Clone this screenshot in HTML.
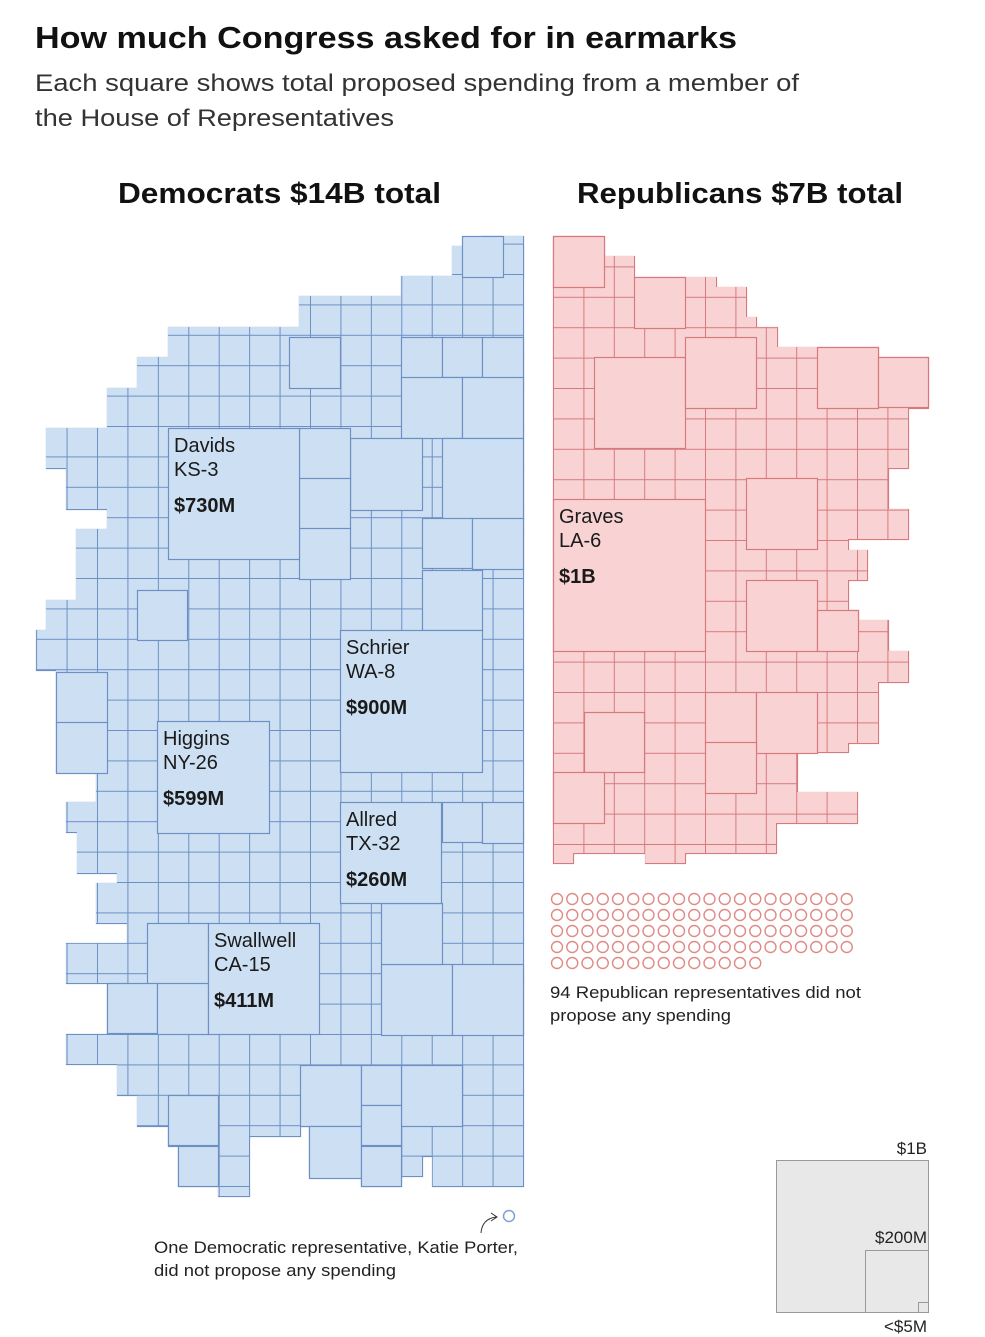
<!DOCTYPE html>
<html><head><meta charset="utf-8">
<style>
html,body{margin:0;padding:0;background:#fff;}
svg{display:block;font-family:"Liberation Sans",sans-serif;}
</style></head>
<body>
<svg id="chart" width="985" height="1337" viewBox="0 0 985 1337" xmlns="http://www.w3.org/2000/svg">
<defs>
<pattern id="pd" x="523" y="1186" width="30.43" height="30.4" patternUnits="userSpaceOnUse">
<rect width="30.43" height="30.4" fill="#cde0f3"/><path d="M0 0H30.43M0 0V30.4" stroke="#6d8fc4" stroke-width="2" fill="none"/></pattern>
<pattern id="pr" x="553" y="236" width="30.4" height="30.4" patternUnits="userSpaceOnUse">
<rect width="30.4" height="30.4" fill="#f9d3d4"/><path d="M0 0H30.4M0 0V30.4" stroke="#d77a7e" stroke-width="2" fill="none"/></pattern>
<clipPath id="cd"></clipPath><clipPath id="cr"></clipPath>
</defs>
<text x="35" y="48" font-size="31" font-weight="bold" fill="#111" textLength="702" lengthAdjust="spacingAndGlyphs">How much Congress asked for in earmarks</text>
<text x="35" y="91" font-size="24" fill="#333" textLength="764" lengthAdjust="spacingAndGlyphs">Each square shows total proposed spending from a member of</text>
<text x="35" y="126" font-size="24" fill="#333" textLength="359" lengthAdjust="spacingAndGlyphs">the House of Representatives</text>
<text x="118" y="203" font-size="29" font-weight="bold" fill="#111" textLength="323" lengthAdjust="spacingAndGlyphs">Democrats $14B total</text>
<text x="577" y="203" font-size="29" font-weight="bold" fill="#111" textLength="326" lengthAdjust="spacingAndGlyphs">Republicans $7B total</text>
<g id="dem"></g><g id="rep"></g><g id="labels"></g><g id="zeros"></g>
<circle cx="509" cy="1216" r="5.5" fill="none" stroke="#7ea1d3" stroke-width="1.5"/>
<path d="M481 1233 Q482 1219 496 1217 M491 1213 L497 1217 L491 1221" fill="none" stroke="#333" stroke-width="1"/>
<text x="154" y="1253" font-size="17" fill="#222" textLength="364" lengthAdjust="spacingAndGlyphs">One Democratic representative, Katie Porter,</text>
<text x="154" y="1276" font-size="17" fill="#222" textLength="242" lengthAdjust="spacingAndGlyphs">did not propose any spending</text>
<text x="550" y="998" font-size="17" fill="#222" textLength="311" lengthAdjust="spacingAndGlyphs">94 Republican representatives did not</text>
<text x="550" y="1021" font-size="17" fill="#222" textLength="181" lengthAdjust="spacingAndGlyphs">propose any spending</text>
<g>
<rect x="776.5" y="1160.5" width="152" height="152" fill="#e8e8e8" stroke="#999"/>
<rect x="865.5" y="1250.5" width="63" height="62" fill="#e8e8e8" stroke="#999"/>
<rect x="918.5" y="1302.5" width="10" height="10" fill="#e8e8e8" stroke="#999"/>
<text x="927" y="1154" font-size="17" fill="#222" text-anchor="end">$1B</text>
<text x="927" y="1243" font-size="17" fill="#222" text-anchor="end">$200M</text>
<text x="927" y="1332" font-size="17" fill="#222" text-anchor="end">&lt;$5M</text>
</g>
</svg>
<script>
const NS="http://www.w3.org/2000/svg";
const demOutline=[[482,236,523,276],[452,246,523,276],[401,276,523,296],[299,296,523,327],[168,327,523,357],[137,357,523,388],[107,388,523,428],[46,428,523,468],[66,468,523,509],[107,509,523,529],[76,529,523,600],[46,600,523,630],[36,630,523,670],[56,670,523,772],[96,772,523,802],[66,802,523,832],[77,832,523,873],[117,873,523,883],[96,883,523,923],[127,923,523,943],[66,943,523,983],[107,983,523,1034],[66,1034,523,1064],[117,1064,523,1095],[137,1095,300,1126],[168,1126,218,1146],[218,1126,300,1136],[178,1146,218,1186],[218,1136,249,1196],[300,1095,523,1126],[309,1126,361,1176],[361,1126,401,1186],[401,1126,422,1176],[422,1126,432,1156],[432,1126,523,1186]];
const demBlocks=[[462,236,41],[401,337,41],[442,337,40],[482,337,41],[401,377,61],[462,377,61],[289,337,51],[350,438,72],[442,438,81],[422,518,50],[472,518,51],[299,428,51],[299,478,51],[299,528,51],[422,570,60],[137,590,50],[56,672,51],[56,722,51],[442,802,40],[482,802,41],[381,964,71],[452,964,71],[381,903,61],[300,1065,61],[401,1065,61],[309,1126,52],[147,923,61],[107,983,50],[157,983,51],[168,1095,50],[178,1146,40],[361,1065,40],[361,1105,40],[361,1146,40]];
const repOutline=[[553,236,604,256],[553,256,634,277],[553,277,716,287],[553,287,746,317],[553,317,756,327],[553,327,777,347],[553,347,878,357],[553,357,928,408],[553,408,908,468],[553,468,888,509],[553,509,908,539],[553,539,848,550],[553,550,867,580],[553,580,848,610],[553,610,858,620],[553,620,888,651],[553,651,908,682],[553,682,878,743],[553,743,848,752],[553,752,797,792],[553,792,857,823],[553,823,776,853],[553,853,573,863],[645,853,685,863]];
const repBlocks=[[553,236,51],[634,277,51],[594,357,91],[685,337,71],[817,347,61],[878,357,50],[746,478,71],[746,580,71],[584,712,60],[705,692,51],[756,692,61],[705,742,51],[553,772,51],[817,610,41]];
const demNames=["Davids","Schrier","Higgins","Allred","Swallwell"];
const demDistricts=["KS-3","WA-8","NY-26","TX-32","CA-15"];
const demValues=["$730M","$900M","$599M","$260M","$411M"];
const demBig=[[168,428,131],[340,630,142],[157,721,112],[340,802,101],[208,923,111]];
const repNames=["Graves"],repDistricts=["LA-6"],repValues=["$1B"];
const repBig=[[553,499,152]];
const repZeroCount=94;

function build(outline,blocks,big,gId,clipId,pat,fill,stroke,party,names,dists,vals){
  const g=document.getElementById(gId),clip=document.getElementById(clipId);
  outline.forEach(o=>{
    const r=document.createElementNS(NS,'rect');
    r.setAttribute('x',o[0]);r.setAttribute('y',o[1]);r.setAttribute('width',o[2]-o[0]);r.setAttribute('height',o[3]-o[1]);
    clip.appendChild(r);
    const s=document.createElementNS(NS,'rect');
    
    
    s.setAttribute('x',o[0]+0.5);s.setAttribute('y',o[1]+0.5);s.setAttribute('width',o[2]-o[0]);s.setAttribute('height',o[3]-o[1]);
    s.setAttribute('fill',fill);s.setAttribute('stroke',stroke);s.setAttribute('stroke-width','1.2');
    g.appendChild(s);
  });
  const p=document.createElementNS(NS,'rect');
  
  
  p.setAttribute('x',0);p.setAttribute('y',0);p.setAttribute('width',985);p.setAttribute('height',1337);
  p.setAttribute('fill','url(#'+pat+')');p.setAttribute('clip-path','url(#'+clipId+')');
  g.appendChild(p);
  blocks.concat(big).forEach((b,i)=>{
    const r=document.createElementNS(NS,'rect');
    
    
    r.setAttribute('x',b[0]+0.5);r.setAttribute('y',b[1]+0.5);r.setAttribute('width',b[2]);r.setAttribute('height',b[2]);
    r.setAttribute('fill',fill);r.setAttribute('stroke',stroke);r.setAttribute('stroke-width','1.2');
    g.appendChild(r);
  });
  const L=document.getElementById('labels');
  big.forEach((b,i)=>{
    [[names[i],24,'normal'],[dists[i],48,'normal'],[vals[i],84,'bold']].forEach((t,j)=>{
      const tx=document.createElementNS(NS,'text');
      
      
      tx.setAttribute('x',b[0]+6);tx.setAttribute('y',b[1]+t[1]);
      tx.setAttribute('font-size','20');tx.setAttribute('font-weight',t[2]);tx.setAttribute('fill','#1a1a1a');
      tx.textContent=t[0];L.appendChild(tx);
    });
  });
}
build(demOutline,demBlocks,demBig,'dem','cd','pd','#cde0f3','#6d8fc4','dem',demNames,demDistricts,demValues);
build(repOutline,repBlocks,repBig,'rep','cr','pr','#f9d3d4','#d77a7e','rep',repNames,repDistricts,repValues);
const Z=document.getElementById('zeros');
for(let i=0;i<repZeroCount;i++){
  const c=document.createElementNS(NS,'circle');
  
  
  c.setAttribute('cx',557+(i%20)*15.25);c.setAttribute('cy',899+Math.floor(i/20)*16);
  c.setAttribute('r','5.5');c.setAttribute('fill','none');c.setAttribute('stroke','#e08a84');c.setAttribute('stroke-width','1.4');
  Z.appendChild(c);
}
</script>
</body></html>
